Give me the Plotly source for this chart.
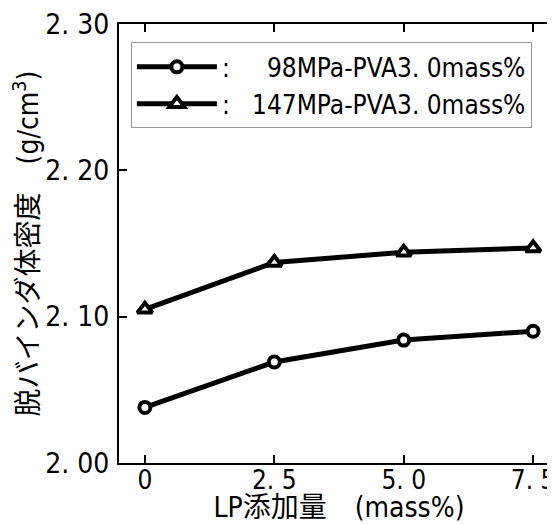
import plotly.graph_objects as go

lp_add = [0, 2.5, 5.0, 7.5]
density_98 = [2.038, 2.069, 2.084, 2.090]
density_147 = [2.105, 2.137, 2.144, 2.147]
series_names = [":\u00a0\u00a0\u00a0\u200798MPa-PVA3. 0mass%", ":\u00a0\u00a0\u00a0147MPa-PVA3. 0mass%"]
x_tickvals = [0, 2.5, 5.0, 7.5]
x_ticktext = ["0", "2. 5", "5. 0", "7. 5"]
y_tickvals = [2.0, 2.1, 2.2, 2.3]
y_ticktext = ["2. 00", "2. 10", "2. 20", "2. 30"]

FONT = "DejaVu Sans Condensed, Noto Sans CJK JP, sans-serif"

fig = go.Figure()
fig.add_trace(go.Scatter(
    x=lp_add, y=density_98, name=series_names[0], mode="lines+markers",
    line=dict(color="black", width=5),
    marker=dict(symbol="circle", size=11, color="white", line=dict(color="black", width=4)),
))
fig.add_trace(go.Scatter(
    x=lp_add, y=density_147, name=series_names[1], mode="lines+markers",
    line=dict(color="black", width=5),
    marker=dict(symbol="triangle-up", size=13, color="white", line=dict(color="black", width=4)),
))

axis_common = dict(
    showgrid=False, zeroline=False, ticks="inside", ticklen=8, tickwidth=2,
    tickcolor="black", ticklabeloverflow="allow",
    automargin=False, showline=True, linecolor="black", linewidth=2, mirror="ticks",
)

fig.update_layout(
    template="none",
    width=551, height=516,
    margin=dict(l=111, r=0, t=16, b=61),
    paper_bgcolor="white", plot_bgcolor="white",
    font=dict(family=FONT, color="black"),
    showlegend=True,
    legend=dict(
        x=0.027, y=0.958, xanchor="left", yanchor="top",
        bordercolor="#999999", borderwidth=1, bgcolor="white",
        font=dict(family=FONT, size=26, color="black"),
        tracegroupgap=0, itemwidth=80,
    ),
    xaxis=dict(
        range=[-0.5, 8.0], tickvals=x_tickvals, ticktext=x_ticktext,
        ticklabelstandoff=-7, tickfont=dict(family=FONT, size=26, color="black"),
        title=dict(text="LP添加量　(mass%)", font=dict(family=FONT, size=28, color="black"), standoff=0),
        **axis_common,
    ),
    yaxis=dict(
        range=[2.0, 2.3], tickvals=y_tickvals, ticktext=y_ticktext,
        ticklabelstandoff=2, tickfont=dict(family=FONT, size=28, color="black"),
        title=dict(text="脱バインダ体密度　(g/cm<sup>3</sup>)", font=dict(family=FONT, size=28, color="black"), standoff=0),
        **axis_common,
    ),
)

fig.write_html("out.html")
